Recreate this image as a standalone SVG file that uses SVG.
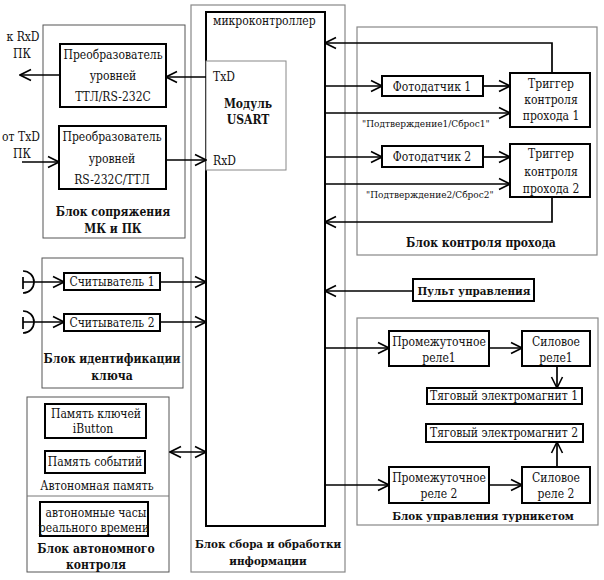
<svg xmlns="http://www.w3.org/2000/svg" width="604" height="580" viewBox="0 0 604 580">
<style>
text{font-family:"DejaVu Serif Condensed","DejaVu Serif","Liberation Serif",serif;font-size:12px;fill:#111}
.b{font-weight:bold}
.c{text-anchor:middle}
.s{font-size:10px}
.m{font-size:11.5px}
.frame{fill:none;stroke:#555;stroke-width:1}
.gframe{fill:none;stroke:#888;stroke-width:1.2}
.box{fill:#fff;stroke:#000;stroke-width:2}
.ln{fill:none;stroke:#000;stroke-width:1.7}
.ar{marker-end:url(#a)}
</style>
<defs>
<marker id="a" markerUnits="userSpaceOnUse" markerWidth="14" markerHeight="14" viewBox="0 0 14 14" refX="13" refY="7" orient="auto">
<path d="M2,1.5 L13,7 L2,12.5" fill="none" stroke="#000" stroke-width="1.6"/>
</marker>
<marker id="as" markerUnits="userSpaceOnUse" markerWidth="14" markerHeight="14" viewBox="0 0 14 14" refX="1" refY="7" orient="auto">
<path d="M12,1.5 L1,7 L12,12.5" fill="none" stroke="#000" stroke-width="1.6"/>
</marker>
</defs>
<rect width="604" height="580" fill="#fff"/>

<g id="block-interface">
<rect class="frame" x="43" y="25" width="142" height="213"/>
<text class="b c" x="113" y="216">Блок сопряжения</text>
<text class="b c" x="113" y="233">МК и ПК</text>
</g>
<g id="conv1">
<rect class="box" x="60" y="44" width="106" height="63"/>
<text class="c" x="113" y="59">Преобразователь</text>
<text class="c" x="113" y="80">уровней</text>
<text class="c" x="113" y="101">ТТЛ/RS-232С</text>
</g>
<g id="conv2">
<rect class="box" x="59" y="126" width="107" height="63"/>
<text class="c" x="112" y="141">Преобразователь</text>
<text class="c" x="112" y="163">уровней</text>
<text class="c" x="112" y="184">RS-232С/ТТЛ</text>
</g>
<g id="pc-labels">
<text class="c" x="23" y="41">к RxD</text>
<text class="c" x="22" y="58">ПК</text>
<text class="c" x="21" y="141">от TxD</text>
<text class="c" x="22" y="158">ПК</text>
</g>

<g id="block-collect">
<rect class="gframe" x="191" y="5" width="154" height="567"/>
<text class="b c m" x="268" y="548">Блок сбора и обработки</text>
<text class="b c m" x="268" y="565">информации</text>
</g>
<g id="mcu">
<rect class="box" x="206" y="12" width="119" height="514"/>
<text x="213" y="25">микроконтроллер</text>
</g>
<g id="usart">
<rect x="206" y="61" width="80" height="109" fill="#fff" stroke="#888" stroke-width="1"/>
<text x="213" y="81">TxD</text>
<text x="213" y="165">RxD</text>
<text class="b c" x="248" y="108">Модуль</text>
<text class="b c" x="248" y="124">USART</text>
</g>

<g id="block-pass">
<rect class="gframe" x="357" y="27" width="240" height="228"/>
<text class="b c" x="481" y="247">Блок контроля прохода</text>
</g>
<g id="photo1">
<rect class="box" x="382" y="76" width="101" height="20"/>
<text class="c" x="432" y="91">Фотодатчик 1</text>
</g>
<g id="trig1">
<rect class="box" x="510" y="73" width="80" height="54"/>
<text class="c" x="551" y="88">Триггер</text>
<text class="c" x="551" y="104">контроля</text>
<text class="c" x="551" y="120">прохода 1</text>
</g>
<g id="photo2">
<rect class="box" x="382" y="146" width="101" height="21"/>
<text class="c" x="432" y="161">Фотодатчик 2</text>
</g>
<g id="trig2">
<rect class="box" x="510" y="144" width="80" height="53"/>
<text class="c" x="551" y="158">Триггер</text>
<text class="c" x="551" y="176">контроля</text>
<text class="c" x="551" y="193">прохода 2</text>
</g>
<g id="labels-confirm">
<text class="s" x="362" y="127">"Подтверждение1/Сброс1"</text>
<text class="s" x="366" y="198">"Подтверждение2/Сброс2"</text>
</g>

<g id="console">
<rect class="box" x="413" y="279" width="121" height="22"/>
<text class="b c m" x="474" y="295">Пульт управления</text>
</g>

<g id="block-turnstile">
<rect class="gframe" x="357" y="318" width="241" height="207"/>
<text class="b c m" x="483" y="520">Блок управления турникетом</text>
</g>
<g id="irelay1">
<rect class="box" x="389" y="331" width="100" height="35"/>
<text class="c" x="439" y="346">Промежуточное</text>
<text class="c" x="439" y="362">реле1</text>
</g>
<g id="prelay1">
<rect class="box" x="522" y="331" width="68" height="35"/>
<text class="c" x="556" y="346">Силовое</text>
<text class="c" x="556" y="362">реле1</text>
</g>
<g id="magnet1">
<rect class="box" x="427" y="388" width="155" height="16"/>
<text class="c" x="504" y="400">Тяговый электромагнит 1</text>
</g>
<g id="magnet2">
<rect class="box" x="426" y="424" width="157" height="18"/>
<text class="c" x="504" y="437">Тяговый электромагнит 2</text>
</g>
<g id="irelay2">
<rect class="box" x="389" y="467" width="100" height="36"/>
<text class="c" x="439" y="482">Промежуточное</text>
<text class="c" x="439" y="498">реле 2</text>
</g>
<g id="prelay2">
<rect class="box" x="522" y="467" width="68" height="36"/>
<text class="c" x="556" y="482">Силовое</text>
<text class="c" x="556" y="498">реле 2</text>
</g>

<g id="block-key">
<rect class="frame" x="42" y="258" width="141" height="130"/>
<text class="b c" x="112" y="363">Блок идентификации</text>
<text class="b c" x="112" y="380">ключа</text>
</g>
<g id="reader1">
<rect class="box" x="64" y="273" width="96" height="17"/>
<text class="c" x="112" y="286">Считыватель 1</text>
</g>
<g id="reader2">
<rect class="box" x="64" y="314" width="96" height="17"/>
<text class="c" x="112" y="327">Считыватель 2</text>
</g>
<g id="keys">
<path class="ln" d="M23,277 V289 M23,271 A11,11 0 0 1 23,293"/>
<path class="ln" d="M23,317 V329 M23,311 A11,11 0 0 1 23,333"/>
</g>

<g id="block-autonomous">
<rect class="frame" x="27" y="397" width="142" height="175"/>
<line x1="27" y1="496" x2="169" y2="496" stroke="#777" stroke-width="1"/>
<text class="c" x="97" y="490">Автономная память</text>
<text class="b c" x="96" y="553">Блок автономного</text>
<text class="b c" x="96" y="569">контроля</text>
</g>
<g id="mem-keys">
<rect class="box" x="45" y="404" width="101" height="34"/>
<text class="c" x="96" y="418">Память ключей</text>
<text class="c" x="93" y="433">iButton</text>
</g>
<g id="mem-events">
<rect class="box" x="45" y="451" width="100" height="22"/>
<text class="c" x="95" y="466">Память событий</text>
</g>
<g id="rtc">
<rect class="box" x="40" y="502" width="108" height="34"/>
<text class="c" x="96" y="517">автономные часы</text>
<text class="c" x="94" y="532">реального времени</text>
</g>

<g id="connectors">
<path class="ln ar" d="M206,77 H166"/>
<path class="ln ar" d="M60,75 H20"/>
<path class="ln ar" d="M22,162 H59"/>
<path class="ln ar" d="M166,160 H206"/>
<path class="ln ar" d="M552,73 V43 H325"/>
<path class="ln ar" d="M325,86 H382"/>
<path class="ln ar" d="M483,86 H510"/>
<path class="ln ar" d="M325,113 H510"/>
<path class="ln ar" d="M325,157 H382"/>
<path class="ln ar" d="M483,157 H510"/>
<path class="ln ar" d="M325,184 H510"/>
<path class="ln ar" d="M552,197 V222 H325"/>
<path class="ln ar" d="M413,291 H325"/>
<path class="ln ar" d="M325,348 H389"/>
<path class="ln ar" d="M489,348 H522"/>
<path class="ln ar" d="M557,366 V388"/>
<path class="ln ar" d="M557,467 V442"/>
<path class="ln ar" d="M325,485 H389"/>
<path class="ln ar" d="M489,485 H522"/>
<path class="ln ar" d="M23,282 H64"/>
<path class="ln ar" d="M23,322 H64"/>
<path class="ln ar" d="M160,282 H206"/>
<path class="ln ar" d="M160,322 H206"/>
<path class="ln ar" d="M170,452 H206" marker-start="url(#as)"/>
</g>
</svg>
